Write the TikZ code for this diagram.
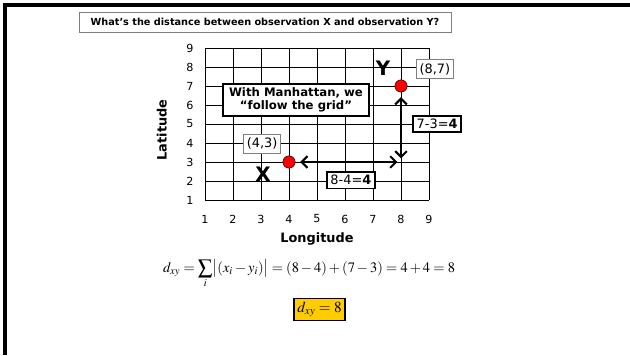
\documentclass[tikz,border=0pt]{standalone}
\usepackage{mathptmx}
\usepackage[no-math]{fontspec}
\setmainfont{DejaVu Sans}
\usetikzlibrary{arrows.meta, positioning}
\definecolor{dotred}{HTML}{FF0000}
\definecolor{framegray}{HTML}{7F7F7F}
\definecolor{resultgold}{HTML}{FFCC00}

\begin{document}
\begin{tikzpicture}[x=0.03cm, y=-0.03cm,
    graybox/.style={draw=framegray, fill=white, line width=0.8pt, inner sep=3pt},
    blackbox/.style={draw=black, fill=white, line width=1.6pt, inner sep=3pt},
    dot/.style={circle, draw=black, line width=0.4pt, fill=dotred, minimum size=0.37cm, inner sep=0pt},
    tick/.style={font=\fontsize{9.5}{10}\selectfont},
    gridarrow/.style={line width=1.8pt, {Straight Barb[length=5pt,width=10pt]}-{Straight Barb[length=5pt,width=10pt]}}]
  \useasboundingbox (0,0) rectangle (630,355);
  % slide frame
  \draw[line width=2.6pt] (5,355) -- (5,5) -- (630,5);
  \node[graybox, minimum width=11.16cm, minimum height=0.6cm, font=\bfseries\fontsize{8.3}{10}\selectfont]
    (question) at (265,22) {What’s the distance between observation X and observation Y?};

  % grid in data coordinates
  \begin{scope}[shift={(177,219)}, x=0.84cm, y=0.57cm]
    \foreach \n in {1,...,9} {
      \draw[line width=0.7pt] (\n,1) -- (\n,9);
      \draw[line width=0.7pt] (1,\n) -- (9,\n);
    }
    \foreach \n in {1,...,9} {
      \node[tick] (xt\n) at (\n,0) {\n};
      \node[tick] (yt\n) at (0.46,\n) {\n};
    }
    \node[font=\bfseries\fontsize{11}{12}\selectfont] (lon) at (5,-1.05) {Longitude};
    \node[font=\bfseries\fontsize{11}{12}\selectfont, rotate=90] (lat) at (-0.54,4.68) {Latitude};

    \node[dot] (ptX) at (4,3) {};
    \node[dot] (ptY) at (8,7) {};
    \coordinate (corner) at (8,3);
    \node[graybox, font=\fontsize{11}{12}\selectfont] (lblX) at (3.04,3.95) {(4,3)};
    \node[graybox, font=\fontsize{11}{12}\selectfont] (lblY) at (9.21,7.89) {(8,7)};
    \node[font=\bfseries\fontsize{17}{18}\selectfont] (nameX) at (3.07,2.37) {X};
    \node[font=\bfseries\fontsize{17}{18}\selectfont] (nameY) at (7.36,7.95) {Y};

    \draw[gridarrow, shorten <=4pt, shorten >=3pt] (ptX) -- (corner);
    \draw[gridarrow, shorten <=3pt, shorten >=4pt] (corner) -- (ptY);

    \node[blackbox, align=center, font=\bfseries\fontsize{10}{11.5}\selectfont, minimum width=4.4cm] (note) at (4.25,6.26)
      {With Manhattan, we\\“follow the grid”};
    \node[blackbox, font=\fontsize{11}{12}\selectfont] (dy) at (9.29,5.0) {7-3=\textbf{4}};
    \node[blackbox, font=\fontsize{11}{12}\selectfont] (dx) at (6.21,2.05) {8-4=\textbf{4}};
  \end{scope}

  % formula and result
  \node[font=\fontsize{12.3}{15}\selectfont] (sum) at (309,274)
    {$\displaystyle d_{xy}=\sum_i\bigl|(x_i-y_i)\bigr|=(8-4)+(7-3)=4+4=8$};
  \node[draw=black, line width=1.4pt, fill=resultgold, inner sep=3pt, font=\fontsize{13}{15}\selectfont]
    (result) at (319.5,309.5) {$d_{xy}=8$};
\end{tikzpicture}
\end{document}
